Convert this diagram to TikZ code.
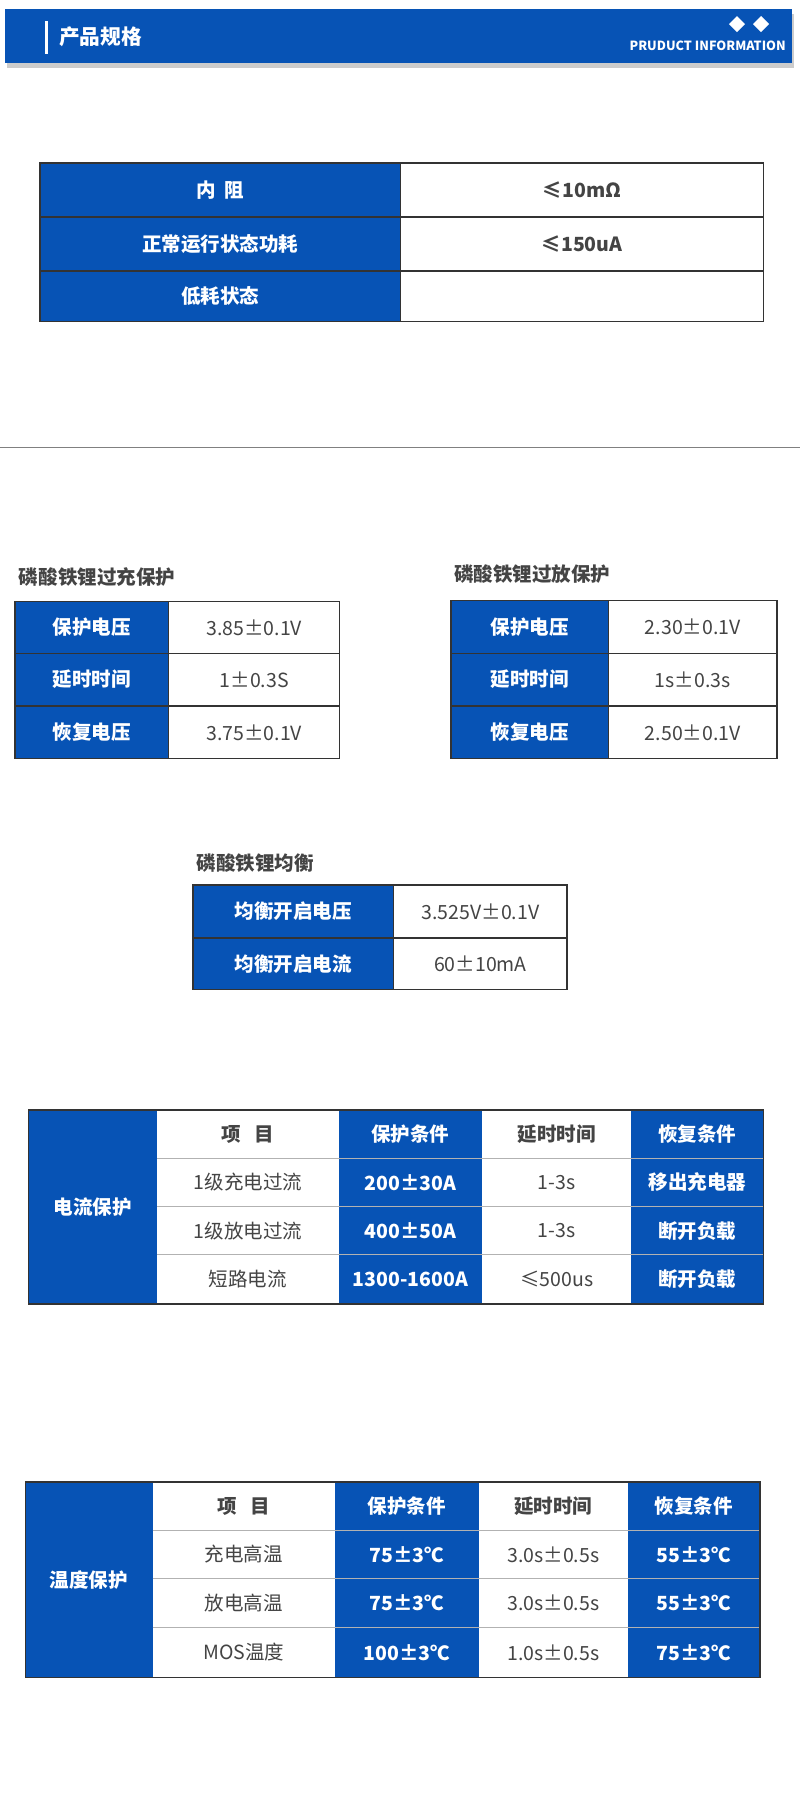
\documentclass[tikz,border=0pt]{standalone}
\usepackage{fontspec}
\setmainfont{Noto Sans CJK SC}
\definecolor{bl}{HTML}{0753B5}
\definecolor{tg}{HTML}{444444}
\definecolor{ln}{HTML}{333333}
\newcommand{\tc}[8]{\fill[#5] (#1,#2) rectangle (#3,#4);
 \node[text=#6,font=#7] (#8) at ({(#1+#3)/2},{(#2+#4)/2}) {#8x};}
\newcommand{\tcc}[9]{\fill[#5] (#1,#2) rectangle (#3,#4);
 \node[text=#6,font=#7] (#8) at ({(#1+#3)/2},{(#2+#4)/2}) {#9};}
\begin{document}
\begin{tikzpicture}[x=1pt,y=-1pt,
  grid/.style={draw=ln,line width=1.2pt},
  ttl/.style={anchor=west,text=tg,font=\fontsize{17}{20}\selectfont\bfseries}]
\useasboundingbox[fill=white] (0,0) rectangle (697,1568);
% header
\fill[gray!40] (6,12) rectangle (692,59);
\fill[bl] (4,8) rectangle (690,55);
\fill[white] (39,18) rectangle (42,47);
\node[anchor=west,text=white,font=\fontsize{18}{20}\selectfont\bfseries] (h1) at (48,32) {产品规格};
\node[anchor=east,text=white,font=\fontsize{11}{12}\selectfont\bfseries] (h2) at (688,40) {PRUDUCT INFORMATION};
\fill[white] (642,14) -- (649,21) -- (642,28) -- (635,21) -- cycle;
\fill[white] (663,14) -- (670,21) -- (663,28) -- (656,21) -- cycle;
% table 1
\def\B{\fontsize{17}{20}\selectfont\bfseries}
\def\R{\fontsize{17}{20}\selectfont}
\tcc{35}{142}{349}{189}{bl}{white}{\B}{a1}{内\ \ 阻}
\tcc{35}{189}{349}{236}{bl}{white}{\B}{a2}{正常运行状态功耗}
\tcc{35}{236}{349}{280}{bl}{white}{\B}{a3}{低耗状态}
\tcc{349}{142}{665}{189}{white}{tg}{\B}{b1}{≤10mΩ}
\tcc{349}{189}{665}{236}{white}{tg}{\B}{b2}{≤150uA}
\draw[grid] (35,142) rectangle (665,280) (349,142)--(349,280) (35,189)--(665,189) (35,236)--(665,236);
\draw[gray,line width=1pt] (0,390) -- (697,390);
% table 2 left
\node[ttl] (t2) at (13,503) {磷酸铁锂过充保护};
\tcc{13}{524}{147}{569}{bl}{white}{\B}{c1}{保护电压}
\tcc{13}{569}{147}{615}{bl}{white}{\B}{c2}{延时时间}
\tcc{13}{615}{147}{661}{bl}{white}{\B}{c3}{恢复电压}
\tcc{147}{524}{296}{569}{white}{tg}{\R}{d1}{3.85±0.1V}
\tcc{147}{569}{296}{615}{white}{tg}{\R}{d2}{1±0.3S}
\tcc{147}{615}{296}{661}{white}{tg}{\R}{d3}{3.75±0.1V}
\draw[grid] (13,524) rectangle (296,661) (147,524)--(147,661) (13,569)--(296,569) (13,615)--(296,615);
% table 2 right
\node[ttl] (t3) at (392,500) {磷酸铁锂过放保护};
\tcc{393}{523}{530}{569}{bl}{white}{\B}{e1}{保护电压}
\tcc{393}{569}{530}{615}{bl}{white}{\B}{e2}{延时时间}
\tcc{393}{615}{530}{661}{bl}{white}{\B}{e3}{恢复电压}
\tcc{530}{523}{677}{569}{white}{tg}{\R}{f1}{2.30±0.1V}
\tcc{530}{569}{677}{615}{white}{tg}{\R}{f2}{1s±0.3s}
\tcc{530}{615}{677}{661}{white}{tg}{\R}{f3}{2.50±0.1V}
\draw[grid] (393,523) rectangle (677,661) (530,523)--(530,661) (393,569)--(677,569) (393,615)--(677,615);
% table 3
\node[ttl] (t4) at (168,752) {磷酸铁锂均衡};
\tcc{168}{771}{343}{817}{bl}{white}{\B}{g1}{均衡开启电压}
\tcc{168}{817}{343}{862}{bl}{white}{\B}{g2}{均衡开启电流}
\tcc{343}{771}{494}{817}{white}{tg}{\R}{k1}{3.525V±0.1V}
\tcc{343}{817}{494}{862}{white}{tg}{\R}{k2}{60±10mA}
\draw[grid] (168,771) rectangle (494,862) (343,771)--(343,862) (168,817)--(494,817);
% table 4
\tcc{25}{967}{137}{1136}{bl}{white}{\B}{m0}{电流保护}
\tcc{137}{967}{295}{1009}{white}{tg}{\B}{m1}{项\ \ \ 目}
\tcc{295}{967}{420}{1009}{bl}{white}{\B}{m2}{保护条件}
\tcc{420}{967}{550}{1009}{white}{tg}{\B}{m3}{延时时间}
\tcc{550}{967}{665}{1009}{bl}{white}{\B}{m4}{恢复条件}
\tcc{137}{1009}{295}{1051}{white}{tg}{\R}{n1}{1级充电过流}
\tcc{295}{1009}{420}{1051}{bl}{white}{\B}{n2}{200±30A}
\tcc{420}{1009}{550}{1051}{white}{tg}{\R}{n3}{1-3s}
\tcc{550}{1009}{665}{1051}{bl}{white}{\B}{n4}{移出充电器}
\tcc{137}{1051}{295}{1093}{white}{tg}{\R}{o1}{1级放电过流}
\tcc{295}{1051}{420}{1093}{bl}{white}{\B}{o2}{400±50A}
\tcc{420}{1051}{550}{1093}{white}{tg}{\R}{o3}{1-3s}
\tcc{550}{1051}{665}{1093}{bl}{white}{\B}{o4}{断开负载}
\tcc{137}{1093}{295}{1136}{white}{tg}{\R}{p1}{短路电流}
\tcc{295}{1093}{420}{1136}{bl}{white}{\B}{p2}{1300-1600A}
\tcc{420}{1093}{550}{1136}{white}{tg}{\R}{p3}{≤500us}
\tcc{550}{1093}{665}{1136}{bl}{white}{\B}{p4}{断开负载}
\draw[gray!60,line width=1pt] (137,1009)--(665,1009) (137,1051)--(665,1051) (137,1093)--(665,1093);
\draw[grid] (25,967) rectangle (665,1136);
% table 5
\tcc{22}{1291}{133}{1461}{bl}{white}{\B}{q0}{温度保护}
\tcc{133}{1291}{292}{1333}{white}{tg}{\B}{q1}{项\ \ \ 目}
\tcc{292}{1291}{417}{1333}{bl}{white}{\B}{q2}{保护条件}
\tcc{417}{1291}{547}{1333}{white}{tg}{\B}{q3}{延时时间}
\tcc{547}{1291}{662}{1333}{bl}{white}{\B}{q4}{恢复条件}
\tcc{133}{1333}{292}{1375}{white}{tg}{\R}{r1}{充电高温}
\tcc{292}{1333}{417}{1375}{bl}{white}{\B}{r2}{75±3℃}
\tcc{417}{1333}{547}{1375}{white}{tg}{\R}{r3}{3.0s±0.5s}
\tcc{547}{1333}{662}{1375}{bl}{white}{\B}{r4}{55±3℃}
\tcc{133}{1375}{292}{1418}{white}{tg}{\R}{s1}{放电高温}
\tcc{292}{1375}{417}{1418}{bl}{white}{\B}{s2}{75±3℃}
\tcc{417}{1375}{547}{1418}{white}{tg}{\R}{s3}{3.0s±0.5s}
\tcc{547}{1375}{662}{1418}{bl}{white}{\B}{s4}{55±3℃}
\tcc{133}{1418}{292}{1461}{white}{tg}{\R}{u1}{MOS温度}
\tcc{292}{1418}{417}{1461}{bl}{white}{\B}{u2}{100±3℃}
\tcc{417}{1418}{547}{1461}{white}{tg}{\R}{u3}{1.0s±0.5s}
\tcc{547}{1418}{662}{1461}{bl}{white}{\B}{u4}{75±3℃}
\draw[gray!60,line width=1pt] (133,1333)--(662,1333) (133,1375)--(662,1375) (133,1418)--(662,1418);
\draw[grid] (22,1291) rectangle (662,1461);
\end{tikzpicture}
\end{document}
